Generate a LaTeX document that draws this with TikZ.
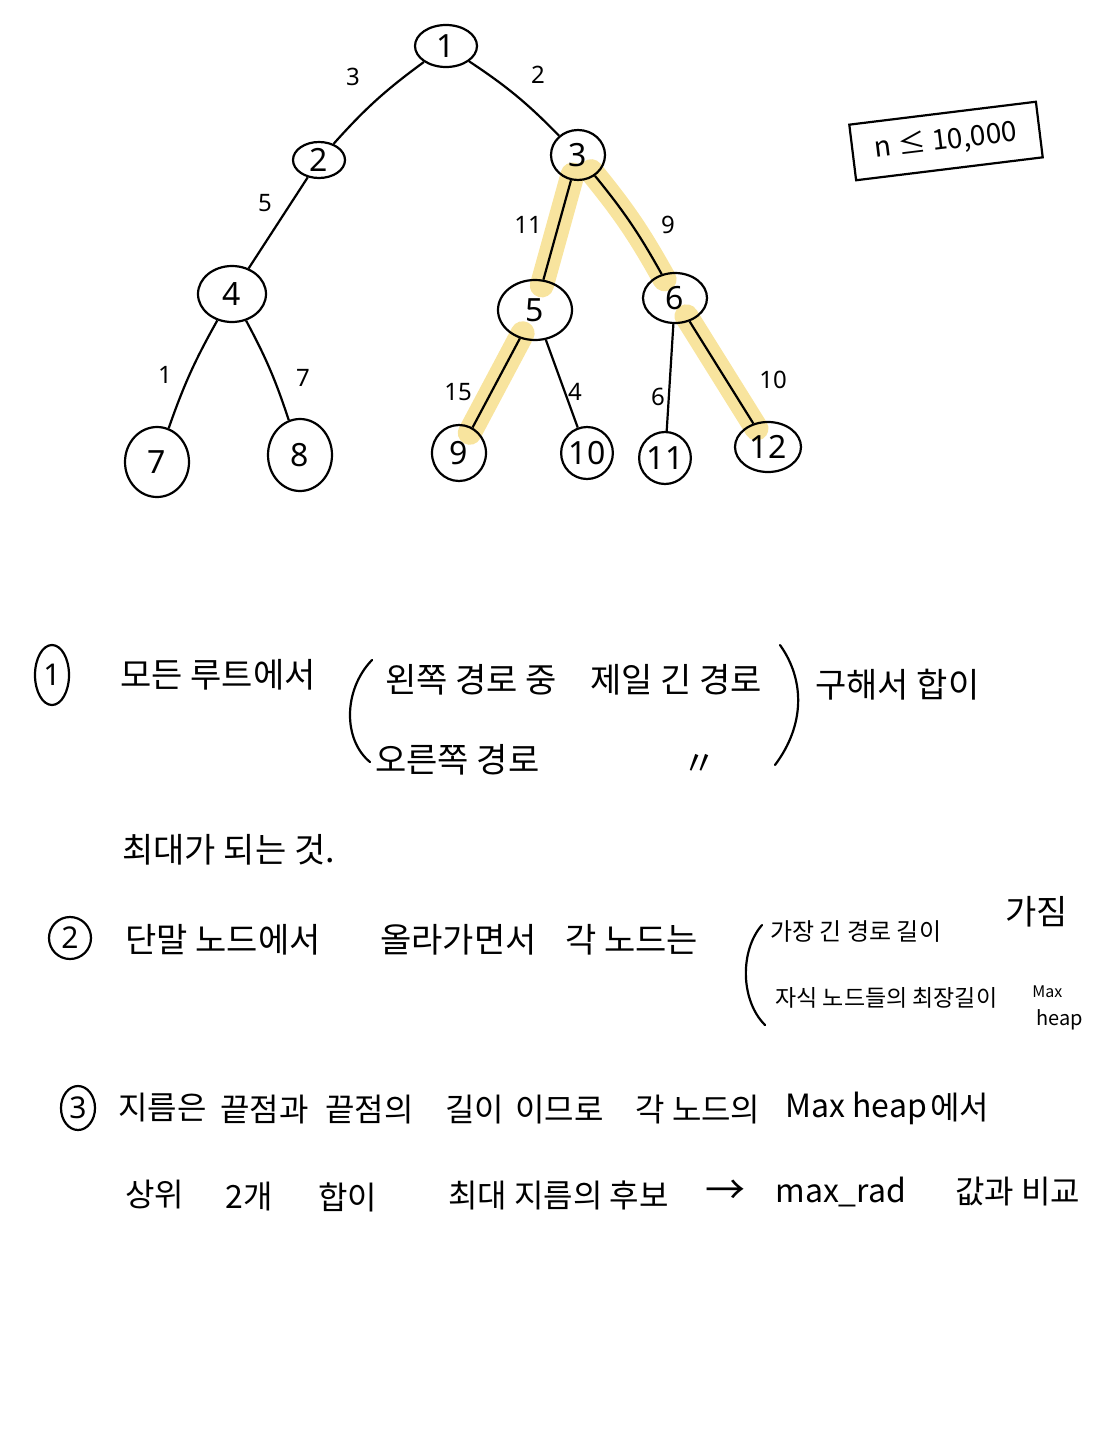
\documentclass[tikz,border=0pt]{standalone}
\usepackage{fontspec}
\setmainfont{Noto Sans CJK KR}
\newfontfamily\kr{Noto Sans CJK KR}
\newfontfamily\hand{Noto Sans}
\usetikzlibrary{shapes.geometric}
\definecolor{hly}{RGB}{248,228,158}
\pgfdeclarelayer{hlayer}
\pgfsetlayers{hlayer,main}
\begin{document}
\begin{tikzpicture}[x=0.5pt,y=-0.5pt,
  tn/.style={draw, ellipse, line width=1.1pt, inner sep=0pt, font=\hand\fontsize{16}{16}\selectfont},
  el/.style={font=\hand\fontsize{12}{12}\selectfont, inner sep=0pt},
  edg/.style={line width=1.1pt},
  hl/.style={line width=12pt, line cap=round, draw=hly, shorten <=-3pt, shorten >=-3pt},
  kt/.style={font=\kr\fontsize{17}{17}\selectfont, anchor=west, inner sep=0pt},
  km/.style={font=\kr\fontsize{16}{16}\selectfont, anchor=west, inner sep=0pt},
  ks/.style={font=\kr\fontsize{12}{12}\selectfont, anchor=west, inner sep=0pt},
  cn/.style={draw, ellipse, line width=1.1pt, inner sep=0pt, font=\hand\fontsize{15}{15}\selectfont},
  paren/.style={line width=1.1pt, line cap=round}]
\useasboundingbox (0,0) rectangle (1098,1440);

% tree nodes
\node[tn, minimum width=31pt, minimum height=21pt] (n1) at (446,46) {1};
\node[tn, minimum width=26pt, minimum height=18pt] (n2) at (319,160) {2};
\node[tn, minimum width=27pt, minimum height=25pt] (n3) at (578,155) {3};
\node[tn, minimum width=34pt, minimum height=28pt] (n4) at (232,294) {4};
\node[tn, minimum width=37pt, minimum height=30pt] (n5) at (535,310) {5};
\node[tn, minimum width=32pt, minimum height=25pt] (n6) at (675,298) {6};
\node[tn, minimum width=32pt, minimum height=35pt] (n7) at (157,462) {7};
\node[tn, minimum width=32pt, minimum height=36pt] (n8) at (300,455) {8};
\node[tn, minimum width=27pt, minimum height=28pt] (n9) at (459,453) {9};
\node[tn, minimum width=25pt, minimum height=26pt] (n10) at (587,453) {10};
\node[tn, minimum width=22pt, minimum height=26pt] (n11) at (665,458) {11};
\node[tn, minimum width=33pt, minimum height=25pt] (n12) at (768,447) {12};

% highlights (on a layer under the nodes)
\begin{pgfonlayer}{hlayer}
\draw[hl] (n3) -- (n5);
\draw[hl] (n3) to[bend left=5] (n6);
\draw[hl] (n5) -- (n9);
\draw[hl] (n6) -- (n12);
\end{pgfonlayer}

% edges
\draw[edg] (n1) to[bend right=6] (n2);
\draw[edg] (n1) to[bend left=6] (n3);
\draw[edg] (n2) -- (n4);
\draw[edg] (n3) -- (n5);
\draw[edg] (n3) to[bend left=5] (n6);
\draw[edg] (n4) to[bend right=5] (n7);
\draw[edg] (n4) to[bend left=5] (n8);
\draw[edg] (n5) -- (n9);
\draw[edg] (n5) -- (n10);
\draw[edg] (n6) -- (n11);
\draw[edg] (n6) -- (n12);

% edge labels
\node[el] (w12) at (353,77) {3};
\node[el] (w13) at (538,75) {2};
\node[el] (w24) at (265,203) {5};
\node[el] (w35) at (528,225) {11};
\node[el] (w36) at (668,225) {9};
\node[el] (w47) at (165,375) {1};
\node[el] (w48) at (303,378) {7};
\node[el] (w59) at (458,392) {15};
\node[el] (w510) at (575,392) {4};
\node[el] (w611) at (658,397) {6};
\node[el] (w612) at (773,380) {10};

% constraint box
\node[draw, line width=1.1pt, rotate=7, minimum width=94pt, minimum height=28pt, font=\kr\fontsize{14}{14}\selectfont] (box) at (946,141) {n ≤ 10,000};

% section 1
\node[cn, minimum width=17pt, minimum height=30pt] (c1) at (52,675) {1};
\node[kt] (t1a) at (120,675) {모든 루트에서};
\draw[paren] (372,660) .. controls (343,690) and (343,740) .. (370,762);
\node[kt] (t1b) at (385,680) {왼쪽 경로 중};
\node[kt] (t1c) at (590,680) {제일 긴 경로};
\draw[paren] (780,645) .. controls (805,680) and (805,725) .. (775,765);
\node[kt] (t1d) at (815,685) {구해서 합이};
\node[kt] (t1e) at (375,760) {오른쪽 경로};
\node[kt] (t1f) at (682,765) {〃};
\node[kt] (t1g) at (122,850) {최대가 되는 것.};

% section 2
\node[cn, minimum width=21pt, minimum height=21pt] (c2) at (70,938) {2};
\node[kt] (t2a) at (125,940) {단말 노드에서};
\node[kt] (t2b) at (380,940) {올라가면서};
\node[kt] (t2c) at (565,940) {각 노드는};
\draw[paren] (762,925) .. controls (740,950) and (740,1000) .. (765,1025);
\node[ks] (t2d) at (770,932) {가장 긴 경로 길이};
\node[kt, font=\kr\fontsize{17}{17}\selectfont] (t2e) at (1005,912) {가짐};
\node[ks, font=\kr\fontsize{11.5}{11.5}\selectfont] (t2f) at (775,998) {자식 노드들의 최장길이};
\node[ks, font=\kr\fontsize{8}{8}\selectfont] (t2g) at (1032,992) {Max};
\node[ks, font=\kr\fontsize{10}{10}\selectfont] (t2h) at (1036,1020) {heap};

% section 3
\node[cn, minimum width=17pt, minimum height=22pt] (c3) at (78,1108) {3};
\node[km] (t3a) at (118,1108) {지름은};
\node[km] (t3b) at (220,1110) {끝점과};
\node[km] (t3c) at (325,1110) {끝점의};
\node[km] (t3d) at (445,1110) {길이};
\node[km] (t3e) at (515,1110) {이므로};
\node[km] (t3f) at (635,1110) {각 노드의};
\node[km] (t3g) at (785,1108) {Max heap};
\node[km] (t3h) at (930,1108) {에서};
\node[km] (t3i) at (125,1195) {상위};
\node[km] (t3j) at (225,1197) {2개};
\node[km] (t3k) at (318,1197) {합이};
\node[km] (t3l) at (448,1195) {최대 지름의 후보};
\node[km, font=\kr\fontsize{20}{20}\selectfont] (t3m) at (705,1192) {→};
\node[km] (t3n) at (775,1192) {max\_rad};
\node[km] (t3o) at (955,1192) {값과 비교};
\end{tikzpicture}
\end{document}
